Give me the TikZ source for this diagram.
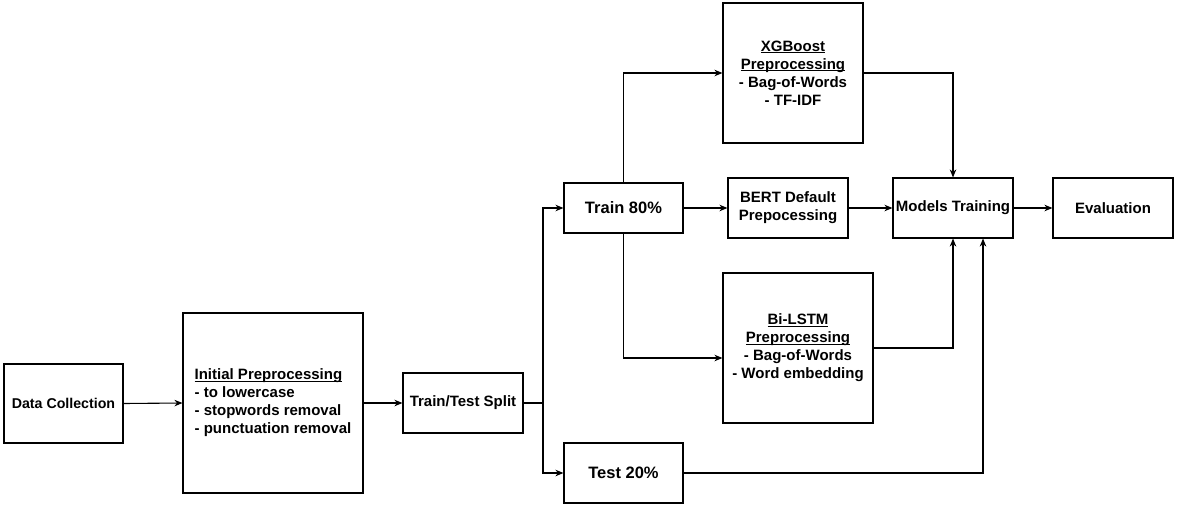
\documentclass[tikz,border=0pt]{standalone}
\usepackage{fontspec}
\setmainfont{Liberation Sans}
\usetikzlibrary{arrows.meta}
\newcommand\myul[1]{\setbox0\hbox{#1}\rlap{\rule[-2pt]{\wd0}{1pt}}\box0}
\begin{document}
\begin{tikzpicture}[x=1pt,y=-1pt,
  box/.style={draw, line width=1.1pt, inner sep=0pt, align=center,
    font=\fontsize{15}{18}\selectfont\bfseries},
  arr/.style={line width=1.1pt, -{Stealth[length=8pt,width=6.5pt,inset=2.5pt]}},
  ln/.style={line width=1.1pt}]
\useasboundingbox (0,0) rectangle (1177,508);
\node[box, minimum width=119, minimum height=79, font=\fontsize{14.2}{18}\selectfont\bfseries] (dc) at (63.5,403.5) {Data Collection};
\node[box, minimum width=180, minimum height=180, align=left] (ip) at (273,403)
  {\myul{Initial Preprocessing}\\- to lowercase\\- stopwords removal\\- punctuation removal};
\node[box, minimum width=120, minimum height=60] (tts) at (463,403) {Train/Test Split};
\node[box, minimum width=119, minimum height=50, font=\fontsize{16.5}{18}\selectfont\bfseries] (tr) at (623.5,208) {Train 80\%};
\node[box, minimum width=119, minimum height=60, font=\fontsize{16.5}{18}\selectfont\bfseries] (te) at (623.5,473) {Test 20\%};
\node[box, minimum width=140, minimum height=140] (xg) at (793,73)
  {\myul{XGBoost}\\\myul{Preprocessing}\\- Bag-of-Words\\- TF-IDF};
\node[box, minimum width=120, minimum height=60] (bert) at (788,208) {BERT Default\\Prepocessing};
\node[box, minimum width=150, minimum height=150] (bi) at (798,348)
  {\myul{Bi-LSTM}\\\myul{Preprocessing}\\- Bag-of-Words\\- Word embedding};
\node[box, minimum width=120, minimum height=60] (mt) at (953,208) {Models Training};
\node[box, minimum width=120, minimum height=60] (ev) at (1113,208) {Evaluation};

\coordinate (sp) at (543,403);
\draw[arr] (dc.east) -- (ip.west);
\draw[arr] (ip.east) -- (tts.west);
\draw[ln] (tts.east) -- (sp);
\draw[arr] (sp) |- (tr.west);
\draw[arr] (sp) |- (te.west);
\draw[arr] (tr.north) |- (xg.west);
\draw[arr] (tr.south) |- ([yshift=-10pt]bi.west);
\draw[arr] (tr.east) -- (bert.west);
\draw[arr] (bert.east) -- (mt.west);
\draw[arr] (xg.east) -| (mt.north);
\draw[arr] (bi.east) -| (mt.south);
\draw[arr] (te.east) -| ([xshift=30pt]mt.south);
\draw[arr] (mt.east) -- (ev.west);
\end{tikzpicture}
\end{document}
